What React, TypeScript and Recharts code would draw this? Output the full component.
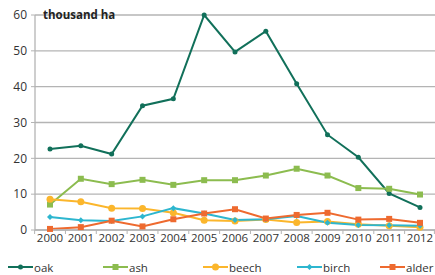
import React from 'react';
import { LineChart, Line, XAxis, YAxis, CartesianGrid } from 'recharts';

const years = ['2000', '2001', '2002', '2003', '2004', '2005', '2006', '2007', '2008', '2009', '2010', '2011', '2012'];
const oak = [22.6, 23.5, 21.2, 34.7, 36.6, 60, 49.7, 55.5, 40.8, 26.6, 20.3, 10.2, 6.3];
const ash = [7.1, 14.3, 12.8, 14.0, 12.6, 13.9, 13.9, 15.2, 17.1, 15.2, 11.7, 11.5, 9.9];
const beech = [8.6, 7.9, 6.1, 6.0, 4.8, 2.7, 2.5, 2.9, 2.1, 2.4, 1.6, 1.2, 0.8];
const birch = [3.6, 2.7, 2.5, 3.8, 6.1, 4.6, 2.8, 3.0, 3.9, 2.0, 1.4, 1.3, 1.2];
const alder = [0.3, 0.8, 2.6, 1.0, 3.0, 4.6, 5.8, 3.2, 4.2, 4.8, 2.9, 3.1, 2.0];
const yTicks = [0, 10, 20, 30, 40, 50, 60];

const data = years.map((year, i) => ({
  year,
  oak: oak[i],
  ash: ash[i],
  beech: beech[i],
  birch: birch[i],
  alder: alder[i],
}));

type Shape = 'dot' | 'square' | 'circle' | 'diamond';

const series: { key: string; color: string; shape: Shape }[] = [
  { key: 'oak', color: '#11705a', shape: 'dot' },
  { key: 'ash', color: '#8cbc4f', shape: 'square' },
  { key: 'beech', color: '#fbb62c', shape: 'circle' },
  { key: 'birch', color: '#2db6cf', shape: 'diamond' },
  { key: 'alder', color: '#ee6a2f', shape: 'square' },
];

const FONT = '"Open Sans", "Noto Sans", sans-serif';
const GRID = '#b4b4b4';

const Marker = ({ cx, cy, color, shape }: { cx: number; cy: number; color: string; shape: Shape }) => {
  if (shape === 'square') return <rect x={cx - 3} y={cy - 3} width={6} height={6} fill={color} />;
  if (shape === 'circle') return <circle cx={cx} cy={cy} r={3.5} fill={color} />;
  if (shape === 'diamond')
    return <path d={`M${cx},${cy - 3} L${cx + 3},${cy} L${cx},${cy + 3} L${cx - 3},${cy} Z`} fill={color} />;
  return <circle cx={cx} cy={cy} r={2.5} fill={color} />;
};

const makeDot = (color: string, shape: Shape) => (props: any) => {
  const { cx, cy, index } = props;
  if (cx == null || cy == null) return <g key={index} />;
  return <Marker key={index} cx={cx} cy={cy} color={color} shape={shape} />;
};

// year label plus the small tick marks sitting between categories
const half = 400 / years.length / 2;
const YearTick = (props: any) => {
  const { x, y, payload, index } = props;
  const top = y - 4;
  return (
    <g>
      <line x1={x - half} y1={top} x2={x - half} y2={top + 4} stroke={GRID} />
      {index === years.length - 1 && <line x1={x + half - 1} y1={top} x2={x + half - 1} y2={top + 4} stroke={GRID} />}
      <text x={x} y={y} dy="0.71em" textAnchor="middle" fill="#333" fontSize={11.5} fontFamily={FONT}>
        {payload.value}
      </text>
    </g>
  );
};

const legendX = [8, 103, 203, 297, 380];

export default function App() {
  return (
    <div style={{ position: 'absolute', left: 0, top: 0, width: 435, height: 275, background: '#fff', fontFamily: FONT, overflow: 'hidden' }}>
      <LineChart width={435} height={245} data={data} margin={{ top: 15, right: 0, left: 0, bottom: 0 }}>
        <CartesianGrid vertical={false} stroke={GRID} strokeWidth={1.3} />
        <XAxis
          dataKey="year"
          height={15}
          padding={{ left: 15, right: 15 }}
          tickLine={false}
          tickSize={0}
          tickMargin={4}
          axisLine={{ stroke: GRID, strokeWidth: 1.3 }}
          interval={0}
          tick={<YearTick />}
        />
        <YAxis
          width={35}
          domain={[0, 60]}
          ticks={yTicks}
          interval={0}
          tickSize={4}
          tickMargin={4}
          tickLine={{ stroke: GRID }}
          axisLine={{ stroke: GRID, strokeWidth: 1.3 }}
          tick={{ fill: '#333', fontSize: 12, fontFamily: FONT }}
        />
        {series.map((s) => (
          <Line
            key={s.key}
            type="linear"
            dataKey={s.key}
            stroke={s.color}
            strokeWidth={2}
            dot={makeDot(s.color, s.shape)}
            activeDot={false}
            isAnimationActive={false}
          />
        ))}
      </LineChart>
      <div style={{ position: 'absolute', left: 43, top: 7, fontSize: 11.5, fontWeight: 700, color: '#222' }}>
        thousand ha
      </div>
      {series.map((s, i) => (
        <div
          key={s.key}
          style={{
            position: 'absolute',
            left: legendX[i],
            top: 259,
            display: 'flex',
            alignItems: 'center',
            height: 16,
            whiteSpace: 'nowrap',
          }}
        >
          <svg width={25} height={10}>
            <line x1={0} y1={5} x2={25} y2={5} stroke={s.color} strokeWidth={2} />
            <Marker cx={12.5} cy={5} color={s.color} shape={s.shape} />
          </svg>
          <span style={{ fontSize: 11.5, color: '#333', marginLeft: 1 }}>{s.key}</span>
        </div>
      ))}
    </div>
  );
}
